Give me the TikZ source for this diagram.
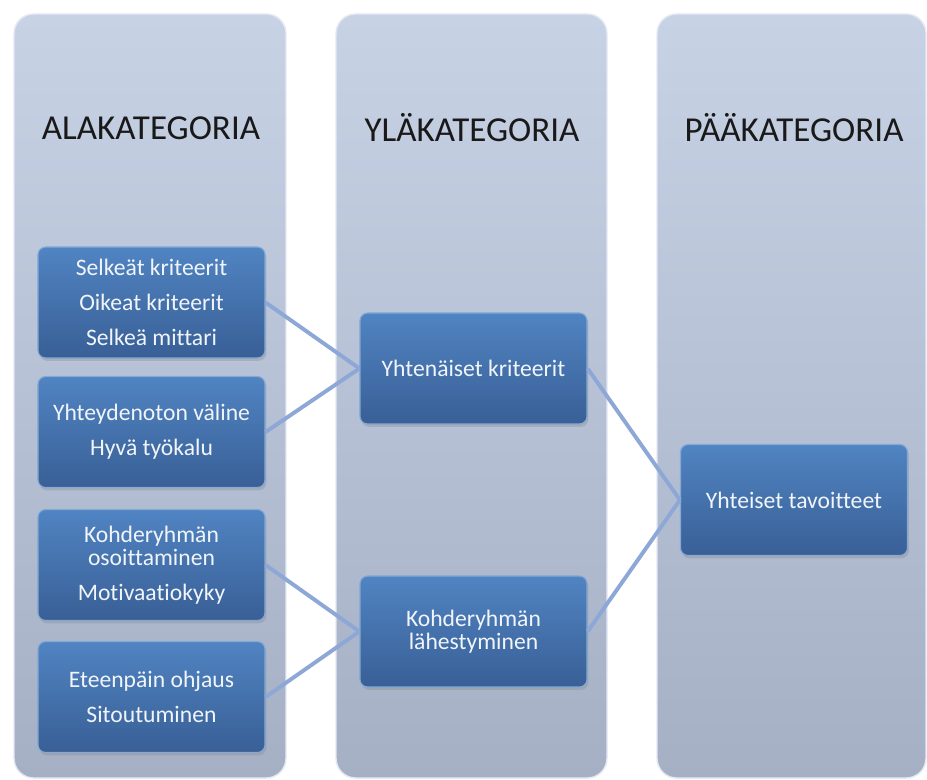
\documentclass[tikz,border=0pt]{standalone}
\usepackage{fontspec}
\setmainfont{Carlito}[Ligatures=NoCommon]
\usetikzlibrary{shadows}
\definecolor{colTop}{HTML}{C8D2E5}
\definecolor{colBot}{HTML}{A6B0C5}
\definecolor{boxTop}{HTML}{5084C2}
\definecolor{boxBot}{HTML}{395F96}
\definecolor{linkBlue}{HTML}{8DA8D6}

\tikzset{
  column/.style={top color=colTop, bottom color=colBot, draw=colTop!50!white, line width=1pt, rounded corners=14pt},
  heading/.style={font=\fontsize{24.9}{28}\selectfont, text=black!90},
  catbox/.style={top color=boxTop, bottom color=boxBot, draw=boxTop!70!white, line width=0.8pt,
    rounded corners=5.5pt, minimum width=5.675cm, minimum height=2.775cm, align=center,
    text=white!92!boxTop, font=\fontsize{16.8}{16.5}\selectfont,
    drop shadow={opacity=0.3, shadow xshift=1pt, shadow yshift=-2pt}},
  link/.style={draw=linkBlue, line width=2.8pt}
}

\begin{document}
\begin{tikzpicture}[x=0.025cm,y=-0.025cm]
\useasboundingbox (0,0) rectangle (927,780);
% columns
\shade[column] (14,14) rectangle (286,778);
\shade[column] (336,14) rectangle (607,778);
\shade[column] (657,14) rectangle (926,778);
\node[heading] (h1) at (151,128) {ALAKATEGORIA};
\node[heading] (h2) at (472,128) {YLÄKATEGORIA};
\node[heading] (h3) at (794,128) {PÄÄKATEGORIA};
% boxes
\node[catbox] (sub1) at (151.5,302.5) {Selkeät kriteerit\\[8.3pt] Oikeat kriteerit\\[8.3pt] Selkeä mittari};
\node[catbox] (sub2) at (151.5,432) {Yhteydenoton väline\\[8.3pt] Hyvä työkalu};
\node[catbox] (sub3) at (151.5,565) {Kohderyhmän\\ osoittaminen\\[8.3pt] Motivaatiokyky};
\node[catbox] (sub4) at (151.5,697) {Eteenpäin ohjaus\\[8.3pt] Sitoutuminen};
\node[catbox] (mid1) at (473.5,368.5) {Yhtenäiset kriteerit};
\node[catbox] (mid2) at (473.5,631.5) {Kohderyhmän\\ lähestyminen};
\node[catbox] (main) at (794,500) {Yhteiset tavoitteet};
% links
\draw[link] (sub1.east) -- (mid1.west);
\draw[link] (sub2.east) -- (mid1.west);
\draw[link] (sub3.east) -- (mid2.west);
\draw[link] (sub4.east) -- (mid2.west);
\draw[link] (mid1.east) -- (main.west);
\draw[link] (mid2.east) -- (main.west);
\end{tikzpicture}
\end{document}
